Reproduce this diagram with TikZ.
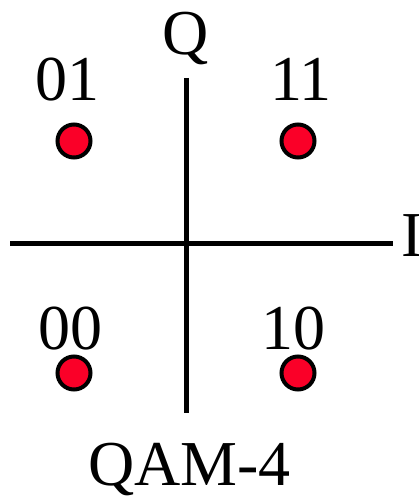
\documentclass[tikz,border=0pt]{standalone}
\usepackage{fontspec}
\setmainfont{Liberation Serif}
\definecolor{dotred}{RGB}{250,0,40}
\begin{document}
\begin{tikzpicture}[x=1pt,y=-1pt,
  axis/.style={line width=5pt},
  pt/.style={circle,draw=black,fill=dotred,line width=4pt,minimum size=33pt,inner sep=0pt},
  lbl/.style={anchor=base,inner sep=0pt,font=\fontsize{64}{70}\selectfont}]
\useasboundingbox (0,0) rectangle (418,497);
\coordinate (qtop) at (186,78);
\coordinate (qbot) at (186,413);
\coordinate (ileft) at (10,243);
\coordinate (iright) at (393,243);
\draw[axis] (qtop) -- (qbot);
\draw[axis] (ileft) -- (iright);
\node[lbl] (Q) at (186,55) {Q};
\node[lbl,anchor=base west] (I) at (401,256) {I};
\node[pt] (p01) at (74,141) {};
\node[pt] (p11) at (298,141) {};
\node[pt] (p00) at (74,373) {};
\node[pt] (p10) at (298,373) {};
\node[lbl] (l01) at (67.5,101) {01};
\node[lbl] (l11) at (301,101) {11};
\node[lbl] (l00) at (70,349) {00};
\node[lbl] (l10) at (293.5,349) {10};
\node[lbl] (title) at (189.5,485) {QAM-4};
\end{tikzpicture}
\end{document}
